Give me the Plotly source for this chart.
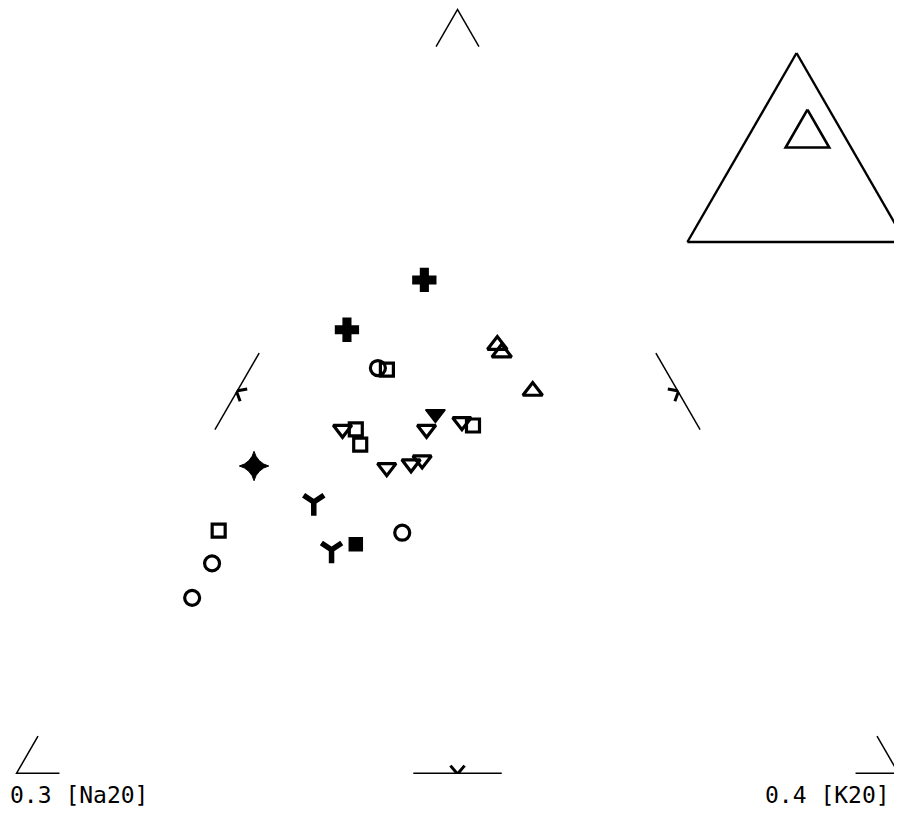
import plotly.graph_objects as go

# zoomed window of the ternary (a = top, b = Na2O left, c = K2O right)
a_min, b_min, c_min = 0.5, 0.1, 0.2
span = 1 - a_min - b_min - c_min

# samples, grouped by symbol
cross_a = [0.629, 0.616]
cross_b = [0.143, 0.167]
cross_c = [0.228, 0.217]

star_a = [0.581]
star_b = [0.206]
star_c = [0.214]

circ_a = [0.606, 0.563, 0.555, 0.546]
circ_b = [0.165, 0.181, 0.228, 0.237]
circ_c = [0.229, 0.256, 0.217, 0.217]

sq_a = [0.605, 0.591, 0.590, 0.586, 0.563]
sq_b = [0.163, 0.151, 0.178, 0.179, 0.222]
sq_c = [0.231, 0.258, 0.232, 0.235, 0.214]

tup_a = [0.612, 0.610, 0.600]
tup_b = [0.135, 0.135, 0.133]
tup_c = [0.253, 0.255, 0.267]

tdn_a = [0.590, 0.592, 0.590, 0.580, 0.581, 0.582]
tdn_b = [0.162, 0.153, 0.181, 0.176, 0.170, 0.167]
tdn_c = [0.248, 0.255, 0.229, 0.244, 0.249, 0.251]

tdf_a = [0.594]
tdf_b = [0.158]
tdf_c = [0.248]

y_a = [0.571, 0.558]
y_b = [0.197, 0.199]
y_c = [0.232, 0.242]

sqf_a = [0.560]
sqf_b = [0.193]
sqf_c = [0.247]

label_left = "0.3 [Na20]"
label_right = "0.4 [K20]"


def real(p):
    # normalized position inside the window -> real composition
    return (a_min + span * p[0], b_min + span * p[1], c_min + span * p[2])


def frame_pieces():
    segs = []
    e = 0.05
    # corners
    segs.append([(1 - e, e, 0), (1, 0, 0), (1 - e, 0, e)])
    segs.append([(e, 1 - e, 0), (0, 1, 0), (0, 1 - e, e)])
    segs.append([(e, 0, 1 - e), (0, 0, 1), (0, e, 1 - e)])
    # middle of each edge
    segs.append([(0.5 + e, 0.5 - e, 0), (0.5 - e, 0.5 + e, 0)])
    segs.append([(0.5 + e, 0, 0.5 - e), (0.5 - e, 0, 0.5 + e)])
    segs.append([(0, 0.5 + e, 0.5 - e), (0, 0.5 - e, 0.5 + e)])
    # small chevron ticks pointing inward
    d, w = 0.011, 0.008
    segs.append([(0.5 - d / 2 + w, 0.5 - d / 2 - w, d), (0.5, 0.5, 0),
                 (0.5 - d / 2 - w, 0.5 - d / 2 + w, d)])
    segs.append([(0.5 - d / 2 + w, d, 0.5 - d / 2 - w), (0.5, 0, 0.5),
                 (0.5 - d / 2 - w, d, 0.5 - d / 2 + w)])
    segs.append([(d, 0.5 - d / 2 + w, 0.5 - d / 2 - w), (0, 0.5, 0.5),
                 (d, 0.5 - d / 2 - w, 0.5 - d / 2 + w)])
    A, B, C = [], [], []
    for s in segs:
        for p in s:
            r = real(p)
            A.append(r[0]); B.append(r[1]); C.append(r[2])
        A.append(None); B.append(None); C.append(None)
    return A, B, C


fig = go.Figure()

fa, fb, fc = frame_pieces()
fig.add_trace(go.Scatterternary(a=fa, b=fb, c=fc, mode="lines",
                                line=dict(color="black", width=3),
                                connectgaps=False, hoverinfo="skip"))


def pts(a, b, c, symbol, size, width=3.2, color="black"):
    fig.add_trace(go.Scatterternary(
        a=a, b=b, c=c, mode="markers",
        marker=dict(symbol=symbol, size=size, color=color,
                    line=dict(color="black", width=width))))


pts(circ_a, circ_b, circ_c, "circle-open", 15)
pts(sq_a, sq_b, sq_c, "square-open", 13)
pts(tup_a, tup_b, tup_c, "triangle-up-open", 17)
pts(tdn_a, tdn_b, tdn_c, "triangle-down-open", 16)
pts(tdf_a, tdf_b, tdf_c, "triangle-down", 17, width=1.5)
pts(sqf_a, sqf_b, sqf_c, "square", 13, width=1.5)
pts(cross_a, cross_b, cross_c, "cross", 19, width=1.5)
pts(star_a, star_b, star_c, "star-diamond", 21, width=1)
pts(y_a, y_b, y_c, "y-down", 17, width=5.5)

# locator inset: full triangle with the zoomed window outlined
win_a = [1 - b_min - c_min, a_min, a_min, 1 - b_min - c_min]
win_b = [b_min, 1 - a_min - c_min, b_min, b_min]
win_c = [c_min, c_min, 1 - a_min - b_min, c_min]
fig.add_trace(go.Scatterternary(a=win_a, b=win_b, c=win_c, mode="lines",
                                line=dict(color="black", width=2.6),
                                subplot="ternary2", hoverinfo="skip"))

hidden = dict(showline=False, showgrid=False, showticklabels=False,
              ticks="", title=dict(text=""))
shown = dict(showline=True, linecolor="black", linewidth=2.4, showgrid=False,
             showticklabels=False, ticks="", title=dict(text=""))

fig.update_layout(
    width=902, height=815,
    margin=dict(l=0, r=0, t=0, b=0),
    paper_bgcolor="white",
    showlegend=False,
    ternary=dict(
        domain=dict(x=[0.0, 0.9967], y=[0.0601, 1.0]),
        bgcolor="white", sum=1,
        aaxis=dict(min=a_min, **hidden),
        baxis=dict(min=b_min, **hidden),
        caxis=dict(min=c_min, **hidden),
    ),
    ternary2=dict(
        domain=dict(x=[0.7517, 0.9967], y=[0.7129, 0.9448]),
        bgcolor="rgba(0,0,0,0)", sum=1,
        aaxis=shown, baxis=shown, caxis=shown,
    ),
    font=dict(family="DejaVu Sans Mono", color="black"),
)

fig.add_annotation(text=label_left, x=0.0, y=0.0344, xref="paper", yref="paper",
                   xanchor="left", yanchor="middle", showarrow=False,
                   font=dict(size=23, family="DejaVu Sans Mono", color="black"))
fig.add_annotation(text=label_right, x=884 / 902, y=0.0344, xref="paper", yref="paper",
                   xanchor="right", yanchor="middle", showarrow=False,
                   font=dict(size=23, family="DejaVu Sans Mono", color="black"))

fig.write_html("out.html")
